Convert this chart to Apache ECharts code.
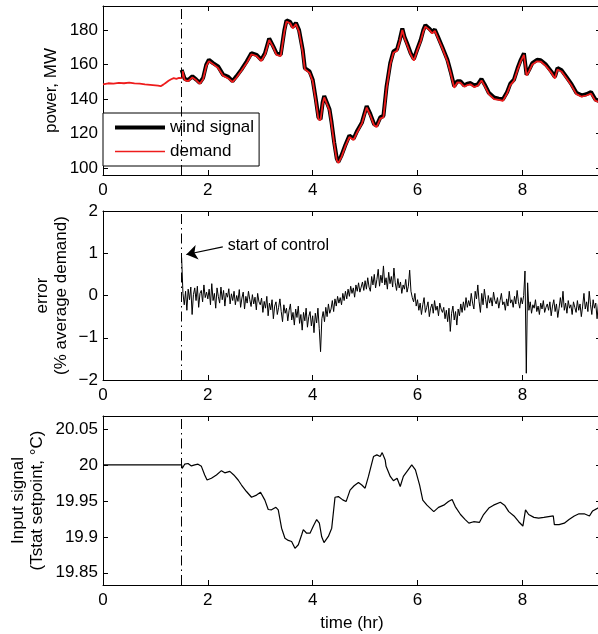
<!DOCTYPE html>
<html>
<head>
<meta charset="utf-8">
<script src="https://cdn.jsdelivr.net/npm/echarts@6/dist/echarts.min.js"></script>
<style>
  html, body { margin: 0; padding: 0; background: #fff; }
  #main { width: 598px; height: 634px; }
</style>
</head>
<body>
<div id="main"></div>
<script>
// power panel: [time (hr), MW]
var windSignal = [
  [1.5, 157], [1.558, 151.7], [1.62, 151], [1.705, 153.2], [1.78, 151.3], [1.845, 149.4], [1.91, 152.3],
  [1.97, 160], [2.02, 162.8], [2.1, 160.9], [2.195, 159], [2.29, 154.2], [2.39, 152.9], [2.47, 150.4],
  [2.545, 153.2], [2.64, 157.1], [2.74, 161.8], [2.83, 166.6], [2.93, 165.7], [3.02, 162.8], [3.09, 166.6],
  [3.17, 175.2], [3.25, 170.4], [3.31, 166.6], [3.39, 165.7], [3.46, 180], [3.5, 185.7], [3.57, 184.8],
  [3.62, 181.9], [3.68, 184.2], [3.74, 180], [3.81, 168.5], [3.85, 158], [3.94, 156.1], [4.0, 151.3],
  [4.06, 139.9], [4.11, 129.4], [4.15, 128.4], [4.19, 138], [4.22, 141.8], [4.27, 138], [4.32, 134.2],
  [4.36, 126.5], [4.41, 115], [4.46, 105.5], [4.49, 103.6], [4.55, 107.4], [4.62, 113.1], [4.7, 118.9],
  [4.78, 117], [4.85, 121.7], [4.94, 126.5], [5.03, 136], [5.1, 131.3], [5.17, 125.6], [5.22, 124.6],
  [5.29, 129.4], [5.35, 130.3], [5.41, 147.5], [5.48, 160.9], [5.54, 167.6], [5.61, 168.9], [5.66, 174.3],
  [5.71, 181], [5.75, 176.2], [5.8, 172.4], [5.87, 166.6], [5.93, 163.2], [5.99, 168.5], [6.06, 174.3],
  [6.11, 180], [6.15, 182.9], [6.22, 181], [6.28, 179], [6.33, 180.4], [6.39, 176.2], [6.47, 170.4],
  [6.57, 162.8], [6.63, 156.1], [6.7, 147.5], [6.76, 150.4], [6.82, 150.4], [6.89, 147.9], [6.95, 149],
  [7.01, 149.3], [7.08, 147.9], [7.15, 148.5], [7.22, 151.7], [7.28, 148.5], [7.36, 143.7], [7.46, 140.9],
  [7.55, 140.3], [7.63, 139.9], [7.71, 144.1], [7.77, 149], [7.84, 151.3], [7.91, 158], [7.97, 162.8],
  [8.03, 166.6], [8.08, 154.2], [8.13, 157.1], [8.19, 160.9], [8.28, 162.8], [8.35, 162.5], [8.45, 160],
  [8.55, 156.1], [8.62, 152.9], [8.67, 158], [8.75, 156.7], [8.84, 152.9], [8.94, 148.5], [9.03, 143.7],
  [9.13, 142.2], [9.22, 142.8], [9.31, 144.1], [9.39, 139.9], [9.46, 139], [9.5, 138.8]
];

var demand = [
  [0, 148.5], [0.1, 149.2], [0.2, 149.0], [0.3, 149.4], [0.4, 149.2], [0.5, 149.6], [0.6, 149.1],
  [0.7, 149.0], [0.8, 148.6], [0.9, 148.3], [1.0, 148.0], [1.05, 147.8], [1.1, 147.5], [1.15, 148.4],
  [1.2, 149.5], [1.25, 150.6], [1.3, 151.5], [1.35, 152.2], [1.4, 151.8], [1.45, 152.3], [1.5, 152.2],
  [1.52, 156.2], [1.558, 151.0], [1.62, 150.4], [1.705, 152.5], [1.78, 150.9], [1.845, 148.8], [1.91, 151.5],
  [1.97, 159.2], [2.02, 162.0], [2.1, 160.3], [2.195, 158.1], [2.29, 153.6], [2.39, 152.0], [2.47, 149.9],
  [2.545, 152.4], [2.64, 156.5], [2.74, 160.9], [2.83, 165.9], [2.93, 165.0], [3.02, 162.1], [3.09, 165.8],
  [3.17, 174.3], [3.25, 169.9], [3.31, 165.7], [3.39, 164.9], [3.46, 179.0], [3.5, 184.9], [3.57, 184.0],
  [3.62, 181.0], [3.68, 183.5], [3.74, 179.1], [3.81, 167.2], [3.85, 157.3], [3.94, 155.2], [4.0, 150.4],
  [4.06, 138.8], [4.11, 128.3], [4.15, 127.8], [4.19, 137.0], [4.22, 141.0], [4.27, 137.2], [4.32, 133.5],
  [4.36, 125.4], [4.41, 114.1], [4.46, 104.5], [4.49, 102.9], [4.55, 106.5], [4.62, 112.4], [4.7, 118.0],
  [4.78, 116.3], [4.85, 120.8], [4.94, 125.9], [5.03, 135.1], [5.1, 130.5], [5.17, 124.9], [5.22, 123.8],
  [5.29, 128.7], [5.35, 129.4], [5.41, 146.4], [5.48, 160.0], [5.54, 166.9], [5.61, 168.0], [5.66, 173.4],
  [5.71, 180.1], [5.75, 175.5], [5.8, 171.5], [5.87, 165.9], [5.93, 162.3], [5.99, 167.8], [6.06, 173.4],
  [6.11, 179.2], [6.15, 182.0], [6.22, 180.3], [6.28, 178.1], [6.33, 179.6], [6.39, 175.3], [6.47, 169.7],
  [6.57, 161.9], [6.63, 155.3], [6.7, 146.6], [6.76, 149.7], [6.82, 149.5], [6.89, 147.2], [6.95, 148.1],
  [7.01, 148.6], [7.08, 147.0], [7.15, 147.8], [7.22, 150.8], [7.28, 147.7], [7.36, 142.9], [7.46, 140.0],
  [7.55, 139.6], [7.63, 139.0], [7.71, 143.4], [7.77, 148.1], [7.84, 150.6], [7.91, 157.1], [7.97, 162.0],
  [8.03, 165.7], [8.08, 153.6], [8.13, 156.2], [8.19, 160.1], [8.28, 161.9], [8.35, 161.8], [8.45, 159.1],
  [8.55, 155.4], [8.62, 152.0], [8.67, 157.2], [8.75, 155.9], [8.84, 152.1], [8.94, 147.7], [9.03, 142.9],
  [9.13, 141.4], [9.22, 142.1], [9.31, 143.2], [9.39, 139.1], [9.46, 138.3], [9.5, 138.0]
];

// error panel: one value every 0.025 hr from 1.5 hr
var errStart = 1.5;
var errStep = 0.025;
var errorPct = [
  0.90, 0.05, -0.22, 0.10, -0.35, 0.15, -0.10, 0.20, -0.45, 0.02, 0.18, -0.12, 0.22, -0.28, 0.05, 0.12, -0.15, 0.25, -0.05, 0.08,
  -0.08, 0.15, -0.22, 0.28, -0.12, 0.05, -0.30, 0.18, -0.02, -0.18, 0.20, -0.10, 0.12, -0.25, 0.06, -0.04, 0.16, -0.20, 0.04, -0.12,
  0.10, -0.22, 0.00, -0.14, 0.14, -0.28, -0.06, 0.08, -0.32, -0.02, -0.18, 0.10, -0.10, -0.26, 0.02, -0.20, -0.04, -0.34, 0.05, -0.15,
  -0.22, -0.06, -0.40, -0.14, -0.30, -0.02, -0.48, -0.18, -0.34, -0.10, -0.55, -0.25, -0.15, -0.45, -0.28, -0.08, -0.38, -0.62, -0.22, -0.42,
  -0.30, -0.60, -0.35, -0.20, -0.58, -0.40, -0.70, -0.32, -0.52, -0.25, -0.66, -0.45, -0.82, -0.40, -0.60, -0.30, -0.75, -0.50, -0.38, -0.72,
  -0.48, -0.88, -0.42, -0.65, -0.30, -0.78, -1.33, -0.55, -0.38, -0.62, -0.28, -0.50, -0.20, -0.42, -0.32, -0.12, -0.38, -0.08, -0.25, -0.02,
  -0.18, -0.05, -0.22, 0.05, -0.12, 0.10, -0.08, 0.15, -0.02, 0.22, 0.05, 0.18, -0.04, 0.25, 0.10, 0.30, 0.08, 0.20, 0.32, 0.12,
  0.35, 0.15, 0.42, 0.20, 0.10, 0.45, 0.25, 0.50, 0.18, 0.38, 0.62, 0.22, 0.48, 0.30, 0.70, 0.25, 0.42, 0.15, 0.55, 0.28,
  0.45, 0.20, 0.65, 0.30, 0.12, 0.40, 0.18, 0.32, 0.05, 0.25, 0.15, 0.38, 0.08, 0.22, 0.60, 0.10, -0.05, -0.15, 0.05, -0.25,
  -0.10, -0.35, -0.18, -0.45, -0.22, -0.05, -0.40, -0.28, -0.15, -0.50, -0.30, -0.20, -0.42, -0.12, -0.35, -0.25, -0.48, -0.18, -0.32, -0.40,
  -0.28, -0.55, -0.35, -0.62, -0.30, -0.85, -0.42, -0.25, -0.58, -0.38, -0.70, -0.32, -0.48, -0.20, -0.40, -0.15, -0.35, -0.05, -0.28, -0.12,
  -0.25, 0.05, -0.18, -0.32, 0.10, -0.08, 0.25, -0.15, -0.40, 0.05, -0.22, 0.15, -0.10, -0.30, 0.00, -0.18, -0.05, -0.25, 0.08, -0.12,
  -0.20, -0.05, -0.30, -0.12, 0.05, -0.22, -0.15, -0.35, -0.08, -0.25, 0.10, -0.18, -0.10, -0.28, -0.02, -0.20, 0.12, -0.15, -0.30, -0.05,
  -0.20, 0.00, 0.58, -1.84, 0.30, -0.35, -0.15, -0.42, -0.22, -0.30, -0.10, -0.38, -0.25, -0.45, -0.18, -0.32, -0.12, -0.40, -0.28, -0.20,
  -0.35, -0.15, -0.48, -0.25, -0.10, -0.38, -0.20, -0.52, -0.30, -0.05, -0.28, 0.10, -0.35, -0.18, -0.42, -0.12, -0.30, -0.22, -0.45, -0.15,
  -0.28, -0.40, -0.12, -0.35, -0.20, -0.50, -0.25, 0.05, -0.32, -0.15, -0.38, 0.10, -0.22, -0.45, -0.10, -0.30, -0.18, -0.55, -0.20, -0.32,
  -0.25
];

// input signal panel: [time (hr), setpoint degC]
var inputSignal = [
  [0, 20.0], [1.5, 20.0], [1.51, 19.995], [1.558, 20.001], [1.622, 20.002], [1.686, 19.9986], [1.75, 20.0],
  [1.813, 20.001], [1.877, 19.998], [1.94, 19.986], [1.985, 19.979], [2.068, 19.9815], [2.164, 19.986],
  [2.259, 19.992], [2.323, 19.989], [2.419, 19.991], [2.495, 19.986], [2.578, 19.979], [2.642, 19.972],
  [2.737, 19.963], [2.833, 19.955], [2.929, 19.958], [3.005, 19.962], [3.088, 19.951], [3.152, 19.938],
  [3.215, 19.9375], [3.298, 19.941], [3.343, 19.9375], [3.407, 19.912], [3.471, 19.898], [3.535, 19.895],
  [3.598, 19.8935], [3.662, 19.884], [3.726, 19.889], [3.79, 19.9028], [3.821, 19.91], [3.885, 19.905],
  [3.949, 19.905], [4.013, 19.915], [4.076, 19.924], [4.127, 19.919], [4.172, 19.9], [4.216, 19.892],
  [4.299, 19.9005], [4.363, 19.912], [4.426, 19.955], [4.49, 19.956], [4.573, 19.9514], [4.637, 19.949],
  [4.713, 19.965], [4.79, 19.971], [4.873, 19.9755], [4.937, 19.972], [5.0, 19.9676], [5.064, 19.984],
  [5.16, 20.0116], [5.224, 20.0139], [5.288, 20.0116], [5.326, 20.0171], [5.383, 20.0069], [5.4, 19.998],
  [5.48, 19.984], [5.54, 19.978], [5.61, 19.9815], [5.67, 19.97], [5.73, 19.984], [5.8, 19.991],
  [5.89, 20.0], [5.96, 19.993], [6.04, 19.972], [6.1, 19.951], [6.18, 19.944], [6.31, 19.935],
  [6.4, 19.941], [6.5, 19.944], [6.59, 19.949], [6.66, 19.952], [6.72, 19.942], [6.82, 19.931],
  [6.91, 19.924], [6.98, 19.919], [7.07, 19.921], [7.18, 19.92], [7.26, 19.931], [7.36, 19.94],
  [7.45, 19.944], [7.58, 19.948], [7.66, 19.944], [7.74, 19.935], [7.84, 19.929], [7.93, 19.921],
  [8.01, 19.915], [8.03, 19.913], [8.06, 19.9375], [8.12, 19.931], [8.22, 19.927], [8.31, 19.926],
  [8.41, 19.927], [8.5, 19.928], [8.59, 19.929], [8.61, 19.917], [8.7, 19.917], [8.8, 19.919],
  [8.89, 19.924], [8.99, 19.929], [9.08, 19.932], [9.18, 19.932], [9.28, 19.929], [9.34, 19.936],
  [9.44, 19.94], [9.5, 19.94]
];

var controlStart = 1.5;
var xTicks = [0, 2, 4, 6, 8];
var powerRange = [96, 194];
var errorRange = [-2, 2];
var inputRange = [19.833, 20.068];

var errorData = errorPct.map(function (v, i) {
    return [Math.round((errStart + i * errStep) * 1000) / 1000, v];
});

var FONT = 'Liberation Sans, Arial, Helvetica, sans-serif';

function minusSign(v) {
    return String(v).replace('-', '\u2212');
}

function xAxisFor(g, pos, name) {
    var isBottom = pos === 'bottom';
    return {
        gridIndex: g, type: 'value', position: pos,
        min: xTicks[0], max: 9.5, interval: xTicks[1] - xTicks[0],
        axisLine: { show: true, onZero: false, lineStyle: { color: '#000', width: 1 } },
        axisTick: { show: true, inside: true, length: 5, lineStyle: { color: '#000' } },
        axisLabel: { show: isBottom, fontSize: 17, color: '#000', margin: 7, showMaxLabel: false, fontFamily: FONT },
        splitLine: { show: false },
        name: name || '', nameLocation: 'middle', nameGap: 30,
        nameTextStyle: { fontSize: 17, color: '#000', fontFamily: FONT },
        nameMoveOverlap: false
    };
}

function yAxisFor(g, pos, range, name, gap, hideEnds) {
    var isLeft = pos === 'left';
    return {
        gridIndex: g, type: 'value', position: pos,
        min: range[0], max: range[1],
        axisLine: { show: true, onZero: false, lineStyle: { color: '#000', width: 1 } },
        axisTick: { show: true, inside: true, length: 5, lineStyle: { color: '#000' } },
        axisLabel: {
            show: isLeft, fontSize: 17, color: '#000', margin: 5, fontFamily: FONT,
            showMinLabel: !hideEnds, showMaxLabel: !hideEnds,
            formatter: minusSign
        },
        splitLine: { show: false },
        name: isLeft ? name : '', nameLocation: 'middle', nameGap: gap,
        nameTextStyle: { fontSize: 17, color: '#000', fontFamily: FONT, lineHeight: 19, align: 'center' },
        nameMoveOverlap: false
    };
}

function startLine() {
    return {
        silent: true,
        symbol: ['none', 'none'],
        label: { show: false },
        lineStyle: { color: '#000', width: 1, type: [10, 4, 1.5, 4] },
        data: [{ xAxis: controlStart }]
    };
}

var myChart = echarts.init(document.getElementById('main'), null, { renderer: 'canvas' });

var option = {
    animation: false,
    backgroundColor: '#fff',
    textStyle: { fontFamily: FONT },
    grid: [
        { left: 103, right: -3, top: 6, height: 169, outerBoundsMode: 'none' },
        { left: 103, right: -3, top: 211, height: 169, outerBoundsMode: 'none' },
        { left: 103, right: -3, top: 416, height: 169, outerBoundsMode: 'none' }
    ],
    xAxis: [
        xAxisFor(0, 'bottom'), xAxisFor(0, 'top'),
        xAxisFor(1, 'bottom'), xAxisFor(1, 'top'),
        xAxisFor(2, 'bottom', 'time (hr)'), xAxisFor(2, 'top')
    ],
    yAxis: [
        yAxisFor(0, 'left', powerRange, 'power, MW', 42, true), yAxisFor(0, 'right', powerRange),
        yAxisFor(1, 'left', errorRange, 'error\n(% average demand)', 32, false), yAxisFor(1, 'right', errorRange),
        yAxisFor(2, 'left', inputRange, 'Input signal\n(Tstat setpoint, \u00b0C)', 56, true), yAxisFor(2, 'right', inputRange)
    ],
    legend: {
        left: 103, top: 113,
        orient: 'vertical',
        padding: [6, 5, 6, 10],
        itemGap: 7,
        itemWidth: 50,
        itemHeight: 14,
        backgroundColor: '#fff',
        borderColor: '#000',
        borderWidth: 1,
        borderRadius: 0,
        itemStyle: { opacity: 0 },
        textStyle: { fontSize: 17, color: '#000', fontFamily: FONT },
        data: [
            { name: 'wind signal', lineStyle: { width: 4, color: '#000' } },
            { name: 'demand', lineStyle: { width: 1.5, color: '#ee1c1c' } }
        ]
    },
    series: [
        {
            name: 'wind signal', type: 'line',
            xAxisIndex: 0, yAxisIndex: 0,
            data: windSignal,
            showSymbol: false, symbol: 'none',
            lineStyle: { color: '#000', width: 4 },
            itemStyle: { color: '#000' },
            z: 2,
            markLine: startLine()
        },
        {
            name: 'demand', type: 'line',
            xAxisIndex: 0, yAxisIndex: 0,
            data: demand,
            showSymbol: false, symbol: 'none',
            lineStyle: { color: '#ee1c1c', width: 1.8 },
            itemStyle: { color: '#ee1c1c' },
            z: 3
        },
        {
            name: 'error', type: 'line',
            xAxisIndex: 2, yAxisIndex: 2,
            data: errorData,
            showSymbol: false, symbol: 'none',
            lineStyle: { color: '#000', width: 1 },
            markLine: startLine()
        },
        {
            name: 'annotation', type: 'line',
            xAxisIndex: 2, yAxisIndex: 2,
            data: [],
            markLine: {
                silent: true,
                symbol: ['none', 'arrow'],
                symbolSize: 11,
                lineStyle: { color: '#000', width: 1.2, type: 'solid' },
                itemStyle: { color: '#000' },
                label: {
                    show: true, position: 'start', distance: 5,
                    formatter: 'start of control',
                    fontSize: 16, color: '#000', fontFamily: FONT
                },
                data: [[{ coord: [2.285, 1.15] }, { coord: [1.59, 0.97] }]]
            }
        },
        {
            name: 'input', type: 'line',
            xAxisIndex: 4, yAxisIndex: 4,
            data: inputSignal,
            showSymbol: false, symbol: 'none',
            lineStyle: { color: '#000', width: 1.2 },
            markLine: startLine()
        }
    ]
};

myChart.setOption(option);
</script>
</body>
</html>
